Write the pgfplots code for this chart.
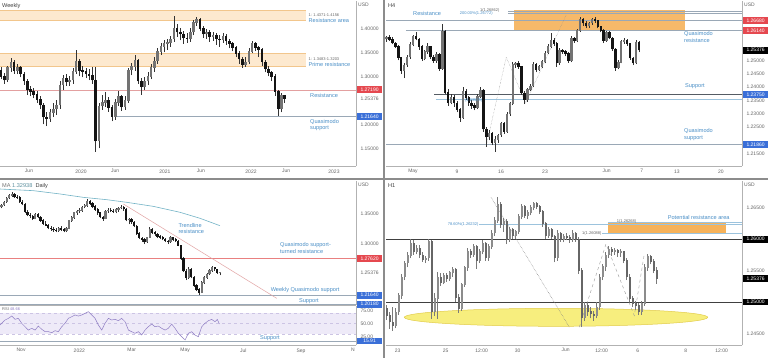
\documentclass[border=0pt]{standalone}
\usepackage{fontspec}
\setmainfont{Liberation Sans}
\usepackage{pgfplots}
\pgfplotsset{compat=1.18}
\usepackage{pgfplotstable}

\definecolor{tvblue}{HTML}{4A8FC7}
\definecolor{tvred}{HTML}{E5484F}
\definecolor{boxblue}{HTML}{3A6FD8}
\definecolor{peach}{HTML}{FDE9CF}
\definecolor{peachline}{HTML}{F2C68C}
\definecolor{orangebox}{HTML}{F6B25A}
\definecolor{lgray}{HTML}{9AA8B6}
\definecolor{ticktext}{HTML}{666666}
\definecolor{rsiline}{HTML}{8E7CC3}
\definecolor{rsifill}{HTML}{EEEAF8}
\definecolor{maline}{HTML}{72B3C6}
\definecolor{trendl}{HTML}{E2A3A3}
\definecolor{resl}{HTML}{E3A0A0}
\definecolor{ellfill}{HTML}{F7EE7E}
\definecolor{ellline}{HTML}{E2CC4A}
\definecolor{fibl}{HTML}{9CC3DD}

\newcommand\tk{\fontsize{5}{6}\selectfont}
\newcommand\an{\fontsize{5.6}{6.4}\selectfont}
\newcommand\sm{\fontsize{4}{4.6}\selectfont}

\pgfplotsset{
  tv/.style={scale only axis, width=356pt, clip=false,
    axis x line*=bottom, axis y line*=right,
    axis line style={-, draw=black!30, line width=0.6pt},
    major tick length=0pt, minor tick num=0,
    tick label style={font=\tk, text=ticktext},
    yticklabel style={anchor=west, xshift=1pt},
  },
}
\tikzset{
  plbox/.style={fill=#1, text=white, font=\tk, inner sep=0.6pt, minimum width=25.5pt, minimum height=6.6pt, anchor=west, xshift=0.6pt},
  ann/.style={font=\an, text=tvblue, anchor=west, inner sep=0pt, align=left},
  smt/.style={font=\sm, text=black!60, anchor=west, inner sep=0pt},
  ttl/.style={font=\an, text=black!75, anchor=north west, inner sep=2pt},
}

% #1 table, #2 up colour, #3 down colour, #4 wick colour, #5 body width, #6 minimum half body
\newcommand\candles[6]{%
\addplot[draw=#4, line width=0.6pt, line cap=butt, mark=none, -, quiver={u=0, v={\thisrow{h}-\thisrow{l}}}] table[x=x, y=l] {#1};
\addplot[draw=#2, line width=#5, line cap=butt, mark=none, -, quiver={u=0, v={(\thisrow{c}>=\thisrow{o})*(abs(\thisrow{c}-\thisrow{o})+2*#6)}}] table[x=x, y expr={min(\thisrow{o},\thisrow{c})-#6}] {#1};
\addplot[draw=#3, line width=#5, line cap=butt, mark=none, -, quiver={u=0, v={(\thisrow{c}<\thisrow{o})*(abs(\thisrow{c}-\thisrow{o})+2*#6)}}] table[x=x, y expr={min(\thisrow{o},\thisrow{c})-#6}] {#1};
}

% Weekly (two-week candles), x = weeks from Jan 2020
\pgfplotstableread{
x o h l c
-49 1.312 1.320 1.294 1.300
-47 1.300 1.306 1.285 1.292
-45 1.292 1.322 1.288 1.318
-43 1.318 1.338 1.310 1.330
-41 1.330 1.334 1.305 1.312
-39 1.312 1.325 1.304 1.318
-37 1.318 1.322 1.298 1.305
-35 1.305 1.310 1.282 1.290
-33 1.290 1.295 1.262 1.272
-31 1.272 1.280 1.258 1.268
-29 1.268 1.276 1.254 1.262
-27 1.262 1.270 1.245 1.252
-25 1.252 1.258 1.232 1.240
-23 1.240 1.244 1.200 1.215
-21 1.215 1.225 1.196 1.212
-19 1.212 1.232 1.205 1.225
-17 1.225 1.245 1.215 1.232
-15 1.232 1.250 1.220 1.240
-13 1.240 1.290 1.232 1.282
-11 1.282 1.302 1.272 1.296
-9 1.296 1.305 1.280 1.288
-7 1.288 1.300 1.280 1.292
-5 1.292 1.318 1.285 1.310
-3 1.310 1.355 1.305 1.332
-1 1.332 1.336 1.300 1.312
1 1.312 1.322 1.298 1.310
3 1.310 1.318 1.296 1.305
5 1.305 1.315 1.292 1.302
7 1.302 1.320 1.285 1.292
9 1.292 1.320 1.143 1.165
11 1.165 1.245 1.150 1.238
13 1.238 1.262 1.230 1.245
15 1.245 1.268 1.236 1.250
17 1.250 1.256 1.226 1.235
19 1.235 1.240 1.206 1.216
21 1.216 1.252 1.210 1.245
23 1.245 1.270 1.238 1.258
25 1.258 1.262 1.228 1.236
27 1.236 1.260 1.230 1.250
29 1.250 1.318 1.245 1.313
31 1.313 1.328 1.302 1.320
33 1.320 1.344 1.312 1.334
35 1.334 1.336 1.284 1.290
37 1.290 1.296 1.262 1.278
39 1.278 1.298 1.272 1.290
41 1.290 1.308 1.282 1.300
43 1.300 1.325 1.294 1.318
45 1.318 1.340 1.310 1.332
47 1.332 1.358 1.326 1.352
49 1.352 1.370 1.345 1.362
51 1.362 1.375 1.350 1.368
53 1.368 1.378 1.355 1.370
55 1.370 1.385 1.362 1.378
57 1.378 1.425 1.372 1.400
59 1.400 1.410 1.382 1.392
61 1.392 1.400 1.375 1.388
63 1.388 1.394 1.368 1.380
65 1.380 1.390 1.370 1.378
67 1.378 1.400 1.372 1.392
69 1.392 1.418 1.386 1.412
71 1.412 1.424 1.405 1.418
73 1.418 1.422 1.394 1.400
75 1.400 1.405 1.380 1.388
77 1.388 1.398 1.378 1.392
79 1.392 1.396 1.372 1.382
81 1.382 1.392 1.374 1.385
83 1.385 1.390 1.366 1.378
85 1.378 1.386 1.362 1.376
87 1.376 1.390 1.370 1.384
89 1.384 1.388 1.366 1.374
91 1.374 1.378 1.358 1.368
93 1.368 1.372 1.352 1.360
95 1.360 1.364 1.340 1.348
97 1.348 1.352 1.326 1.336
99 1.336 1.340 1.318 1.325
101 1.325 1.340 1.320 1.330
103 1.330 1.358 1.326 1.352
105 1.352 1.373 1.348 1.368
107 1.368 1.372 1.352 1.360
109 1.360 1.364 1.340 1.356
111 1.356 1.360 1.322 1.330
113 1.330 1.334 1.308 1.315
115 1.315 1.322 1.300 1.308
117 1.308 1.312 1.290 1.300
119 1.300 1.304 1.260 1.268
121 1.268 1.272 1.218 1.232
123 1.232 1.266 1.225 1.260
125 1.260 1.262 1.245 1.2538
}\tlw

% H4 (8-hour candles), x = trading days from 2 May
\pgfplotstableread{
x o h l c
-3.000 1.2580 1.2592 1.2570 1.2585
-2.667 1.2585 1.2595 1.2572 1.2578
-2.333 1.2578 1.2586 1.2560 1.2565
-2.000 1.2565 1.2570 1.2545 1.2551
-1.667 1.2551 1.2556 1.2500 1.2510
-1.333 1.2510 1.2514 1.2450 1.2462
-1.000 1.2462 1.2490 1.2433 1.2482
-0.667 1.2482 1.2520 1.2476 1.2512
-0.333 1.2512 1.2568 1.2505 1.2560
0.000 1.2560 1.2596 1.2552 1.2590
0.333 1.2590 1.2607 1.2575 1.2580
0.667 1.2580 1.2585 1.2540 1.2551
1.000 1.2551 1.2556 1.2498 1.2505
1.333 1.2505 1.2540 1.2500 1.2532
1.667 1.2532 1.2564 1.2525 1.2551
2.000 1.2551 1.2555 1.2505 1.2512
2.333 1.2512 1.2520 1.2490 1.2498
2.667 1.2498 1.2530 1.2490 1.2524
3.000 1.2524 1.2528 1.2460 1.2470
3.333 1.2470 1.2636 1.2465 1.2610
3.667 1.2610 1.2615 1.2372 1.2380
4.000 1.2380 1.2392 1.2330 1.2342
4.333 1.2342 1.2372 1.2335 1.2360
4.667 1.2360 1.2368 1.2325 1.2340
5.000 1.2340 1.2348 1.2305 1.2315
5.333 1.2315 1.2320 1.2270 1.2285
5.667 1.2285 1.2401 1.2280 1.2385
6.000 1.2385 1.2392 1.2352 1.2360
6.333 1.2360 1.2366 1.2330 1.2340
6.667 1.2340 1.2352 1.2318 1.2330
7.000 1.2330 1.2340 1.2312 1.2322
7.333 1.2322 1.2372 1.2316 1.2365
7.667 1.2365 1.2399 1.2358 1.2388
8.000 1.2388 1.2392 1.2232 1.2242
8.333 1.2242 1.2250 1.2176 1.2212
8.667 1.2212 1.2238 1.2200 1.2226
9.000 1.2226 1.2232 1.2182 1.2190
9.333 1.2190 1.2215 1.2158 1.2202
9.667 1.2202 1.2225 1.2190 1.2220
10.000 1.2220 1.2270 1.2214 1.2262
10.333 1.2262 1.2268 1.2225 1.2233
10.667 1.2233 1.2305 1.2228 1.2298
11.000 1.2298 1.2345 1.2292 1.2338
11.333 1.2338 1.2495 1.2332 1.2485
11.667 1.2485 1.2495 1.2472 1.2490
12.000 1.2490 1.2496 1.2468 1.2476
12.333 1.2476 1.2480 1.2370 1.2378
12.667 1.2378 1.2384 1.2336 1.2352
13.000 1.2352 1.2395 1.2345 1.2390
13.333 1.2390 1.2412 1.2385 1.2404
13.667 1.2404 1.2492 1.2398 1.2486
14.000 1.2486 1.2490 1.2455 1.2464
14.333 1.2464 1.2482 1.2458 1.2476
14.667 1.2476 1.2500 1.2470 1.2495
15.000 1.2495 1.2535 1.2488 1.2528
15.333 1.2528 1.2560 1.2522 1.2552
15.667 1.2552 1.2601 1.2545 1.2576
16.000 1.2576 1.2582 1.2555 1.2564
16.333 1.2564 1.2568 1.2476 1.2490
16.667 1.2490 1.2545 1.2484 1.2536
17.000 1.2536 1.2544 1.2525 1.2532
17.333 1.2532 1.2538 1.2515 1.2526
17.667 1.2526 1.2530 1.2490 1.2498
18.000 1.2498 1.2590 1.2492 1.2582
18.333 1.2582 1.2588 1.2565 1.2572
18.667 1.2572 1.2618 1.2568 1.2612
19.000 1.2612 1.2664 1.2606 1.2655
19.333 1.2655 1.2660 1.2630 1.2640
19.667 1.2640 1.2646 1.2620 1.2628
20.000 1.2628 1.2645 1.2622 1.2640
20.333 1.2640 1.2660 1.2634 1.2652
20.667 1.2652 1.2661 1.2640 1.2648
21.000 1.2648 1.2652 1.2620 1.2626
21.333 1.2626 1.2630 1.2605 1.2612
21.667 1.2612 1.2616 1.2564 1.2575
22.000 1.2575 1.2610 1.2570 1.2604
22.333 1.2604 1.2608 1.2578 1.2583
22.667 1.2583 1.2588 1.2536 1.2542
23.000 1.2542 1.2546 1.2461 1.2472
23.333 1.2472 1.2500 1.2466 1.2492
23.667 1.2492 1.2575 1.2488 1.2570
24.000 1.2570 1.2585 1.2562 1.2576
24.333 1.2576 1.2580 1.2555 1.2562
24.667 1.2562 1.2566 1.2502 1.2508
25.000 1.2508 1.2512 1.2482 1.2490
25.333 1.2490 1.2576 1.2486 1.2568
25.667 1.2568 1.2572 1.2530 1.2538
}\trh

% Daily (two-day candles), x = trading days from 1 Nov 2021
\pgfplotstableread{
x o h l c
-15 1.3600 1.3660 1.3580 1.3640
-13 1.3640 1.3700 1.3620 1.3685
-11 1.3685 1.3760 1.3670 1.3750
-9 1.3750 1.3810 1.3730 1.3795
-7 1.3795 1.3843 1.3770 1.3815
-5 1.3815 1.3830 1.3750 1.3770
-3 1.3770 1.3800 1.3740 1.3760
-1 1.3760 1.3775 1.3670 1.3685
1 1.3685 1.3720 1.3630 1.3650
3 1.3650 1.3665 1.3500 1.3520
5 1.3520 1.3560 1.3450 1.3475
7 1.3475 1.3500 1.3420 1.3455
9 1.3455 1.3470 1.3390 1.3410
11 1.3410 1.3500 1.3400 1.3490
13 1.3490 1.3510 1.3420 1.3440
15 1.3440 1.3460 1.3360 1.3380
17 1.3380 1.3400 1.3310 1.3330
19 1.3330 1.3370 1.3290 1.3300
21 1.3300 1.3320 1.3240 1.3260
23 1.3260 1.3290 1.3220 1.3245
25 1.3245 1.3280 1.3200 1.3225
27 1.3225 1.3260 1.3190 1.3215
29 1.3215 1.3280 1.3200 1.3250
31 1.3250 1.3290 1.3210 1.3240
33 1.3240 1.3260 1.3190 1.3210
35 1.3210 1.3270 1.3195 1.3250
37 1.3250 1.3390 1.3240 1.3380
39 1.3380 1.3450 1.3360 1.3430
41 1.3430 1.3530 1.3410 1.3510
43 1.3510 1.3560 1.3480 1.3540
45 1.3540 1.3590 1.3500 1.3545
47 1.3545 1.3620 1.3530 1.3600
49 1.3600 1.3660 1.3580 1.3630
51 1.3630 1.3734 1.3610 1.3700
53 1.3700 1.3720 1.3640 1.3660
55 1.3660 1.3680 1.3580 1.3610
57 1.3610 1.3630 1.3540 1.3560
59 1.3560 1.3580 1.3480 1.3510
61 1.3510 1.3530 1.3420 1.3440
63 1.3440 1.3460 1.3380 1.3410
65 1.3410 1.3560 1.3400 1.3540
67 1.3540 1.3580 1.3510 1.3550
69 1.3550 1.3590 1.3520 1.3540
71 1.3540 1.3570 1.3510 1.3530
73 1.3530 1.3580 1.3500 1.3560
75 1.3560 1.3610 1.3530 1.3590
77 1.3590 1.3640 1.3570 1.3600
79 1.3600 1.3620 1.3540 1.3570
81 1.3570 1.3580 1.3370 1.3390
83 1.3390 1.3420 1.3320 1.3400
85 1.3400 1.3430 1.3330 1.3360
87 1.3360 1.3380 1.3270 1.3290
89 1.3290 1.3310 1.3150 1.3170
91 1.3170 1.3190 1.3080 1.3100
93 1.3100 1.3120 1.3040 1.3070
95 1.3070 1.3090 1.3000 1.3030
97 1.3030 1.3120 1.3020 1.3110
99 1.3110 1.3270 1.3100 1.3240
101 1.3240 1.3260 1.3170 1.3190
103 1.3190 1.3210 1.3130 1.3160
105 1.3160 1.3180 1.3090 1.3120
107 1.3120 1.3150 1.3080 1.3110
109 1.3110 1.3130 1.3060 1.3085
111 1.3085 1.3100 1.3030 1.3050
113 1.3050 1.3070 1.3000 1.3030
115 1.3030 1.3136 1.3020 1.3110
117 1.3110 1.3120 1.3050 1.3070
119 1.3070 1.3090 1.3030 1.3050
121 1.3050 1.3060 1.2960 1.2975
123 1.2975 1.2990 1.2740 1.2760
125 1.2760 1.2780 1.2540 1.2560
127 1.2560 1.2600 1.2410 1.2450
129 1.2450 1.2620 1.2430 1.2590
131 1.2590 1.2610 1.2440 1.2460
133 1.2460 1.2480 1.2300 1.2320
135 1.2320 1.2340 1.2230 1.2260
137 1.2260 1.2290 1.2173 1.2210
139 1.2210 1.2390 1.2200 1.2370
141 1.2370 1.2470 1.2350 1.2455
143 1.2455 1.2530 1.2430 1.2510
145 1.2510 1.2590 1.2490 1.2570
147 1.2570 1.2646 1.2550 1.2620
149 1.2620 1.2630 1.2560 1.2590
151 1.2590 1.2600 1.2510 1.2530
153 1.2530 1.2550 1.2490 1.25376
}\bld

% H1 (three-hour candles), x = trading hours from 23 May 00:00
\pgfplotstableread{
x o h l c
-11 1.2490 1.2496 1.2472 1.2478
-8 1.2478 1.2484 1.2457 1.2468
-5 1.2468 1.2492 1.2454 1.2462
-2 1.2462 1.2490 1.2458 1.2484
1 1.2484 1.2515 1.2480 1.2510
4 1.2510 1.2545 1.2505 1.2540
7 1.2540 1.2566 1.2535 1.2562
10 1.2562 1.2580 1.2555 1.2574
13 1.2574 1.2600 1.2570 1.2594
16 1.2594 1.2598 1.2575 1.2580
19 1.2580 1.2590 1.2576 1.2586
22 1.2586 1.2590 1.2570 1.2575
25 1.2575 1.2580 1.2564 1.2568
28 1.2568 1.2574 1.2562 1.2570
31 1.2570 1.2600 1.2566 1.2596
34 1.2596 1.2598 1.2473 1.2484
37 1.2484 1.2515 1.2478 1.2505
40 1.2505 1.2548 1.2473 1.2540
43 1.2540 1.2546 1.2526 1.2531
46 1.2531 1.2546 1.2528 1.2542
49 1.2542 1.2546 1.2532 1.2537
52 1.2537 1.2550 1.2534 1.2547
55 1.2547 1.2556 1.2540 1.2552
58 1.2552 1.2554 1.2500 1.2507
61 1.2507 1.2512 1.2483 1.2490
64 1.2490 1.2530 1.2486 1.2528
67 1.2528 1.2558 1.2524 1.2555
70 1.2555 1.2586 1.2550 1.2580
73 1.2580 1.2585 1.2570 1.2576
76 1.2576 1.2592 1.2572 1.2588
79 1.2588 1.2590 1.2553 1.2566
82 1.2566 1.2584 1.2562 1.2580
85 1.2580 1.2598 1.2576 1.2594
88 1.2594 1.2596 1.2565 1.2570
91 1.2570 1.2592 1.2566 1.2588
94 1.2588 1.2615 1.2584 1.2610
97 1.2610 1.2636 1.2605 1.2630
100 1.2630 1.2667 1.2626 1.2655
103 1.2655 1.2660 1.2618 1.2624
106 1.2624 1.2634 1.2612 1.2628
109 1.2628 1.2632 1.2592 1.2600
112 1.2600 1.2620 1.2596 1.2615
115 1.2615 1.2618 1.2600 1.2605
118 1.2605 1.2615 1.2600 1.2612
121 1.2612 1.2640 1.2608 1.2636
124 1.2636 1.2656 1.2632 1.2652
127 1.2652 1.2655 1.2634 1.2638
130 1.2638 1.2646 1.2632 1.2642
133 1.2642 1.2654 1.2638 1.2650
136 1.2650 1.2660 1.2646 1.2657
139 1.2657 1.2659 1.2648 1.2652
142 1.2652 1.2655 1.2640 1.2644
145 1.2644 1.2646 1.2620 1.2625
148 1.2625 1.2628 1.2600 1.2605
151 1.2605 1.2620 1.2602 1.2616
154 1.2616 1.2618 1.2600 1.2604
157 1.2604 1.2606 1.2563 1.2570
160 1.2570 1.2614 1.2566 1.2610
163 1.2610 1.2612 1.2596 1.2600
166 1.2600 1.2608 1.2595 1.2604
169 1.2604 1.2610 1.2598 1.2603
172 1.2603 1.2606 1.2594 1.2600
175 1.2600 1.2614 1.2596 1.2610
178 1.2610 1.2612 1.2596 1.2600
181 1.2600 1.2604 1.2545 1.2550
184 1.2550 1.2554 1.2460 1.2475
187 1.2475 1.2500 1.2470 1.2494
190 1.2494 1.2498 1.2478 1.2485
193 1.2485 1.2492 1.2474 1.2481
196 1.2481 1.2486 1.2470 1.2478
199 1.2478 1.2500 1.2474 1.2492
202 1.2492 1.2545 1.2488 1.2540
205 1.2540 1.2560 1.2535 1.2556
208 1.2556 1.2580 1.2550 1.2575
211 1.2575 1.2589 1.2570 1.2584
214 1.2584 1.2588 1.2574 1.2580
217 1.2580 1.2586 1.2575 1.2582
220 1.2582 1.2585 1.2572 1.2578
223 1.2578 1.2584 1.2572 1.2580
226 1.2580 1.2582 1.2562 1.2566
229 1.2566 1.2570 1.2535 1.2540
232 1.2540 1.2544 1.2500 1.2505
235 1.2505 1.2510 1.2492 1.2497
238 1.2497 1.2502 1.2488 1.2494
241 1.2494 1.2498 1.2479 1.2485
244 1.2485 1.2502 1.2480 1.2498
247 1.2498 1.2560 1.2494 1.2555
250 1.2555 1.2577 1.2550 1.2572
253 1.2572 1.2575 1.2560 1.2565
256 1.2565 1.2568 1.2546 1.2550
259 1.2550 1.2556 1.2529 1.25376
}\brh

\begin{document}
\begin{tikzpicture}
\useasboundingbox (0,0) rectangle (768pt,-358pt);
\fill[black!45] (0,0) rectangle (768pt,-358pt);
\fill[white] (0,0) rectangle (383pt,-178pt);
\fill[white] (385pt,0) rectangle (768pt,-178pt);
\fill[white] (0,-180pt) rectangle (383pt,-358pt);
\fill[white] (385pt,-180pt) rectangle (768pt,-358pt);

% ---------------- Weekly ----------------
\begin{axis}[tv, at={(0pt,-1pt)}, anchor=north west, height=165pt,
  xmin=-49.7, xmax=168.7, ymin=1.11313, ymax=1.4569,
  xtick={-31.9,0,20.9,51.5,73.6,104.3,125.8,155.2},
  xticklabels={Jun,2020,Jun,2021,Jun,2022,Jun,2023},
  ytick={1.15,1.2,1.25376,1.3,1.35,1.4},
  yticklabels={1.15000,1.20000,1.25376,1.30000,1.35000,1.40000}]
\fill[peach] (axis cs:-49.7,1.4167) rectangle (axis cs:138,1.4375);
\draw[peachline,line width=0.5pt] (axis cs:-49.7,1.4375) -- (axis cs:138,1.4375) (axis cs:-49.7,1.4167) -- (axis cs:138,1.4167);
\fill[peach] (axis cs:-49.7,1.3208) rectangle (axis cs:138,1.3485);
\draw[peachline,line width=0.5pt] (axis cs:-49.7,1.3485) -- (axis cs:138,1.3485) (axis cs:-49.7,1.3208) -- (axis cs:138,1.3208);
\draw[resl,line width=0.5pt] (axis cs:-49.7,1.2719) -- (axis cs:168.7,1.2719);
\draw[lgray,line width=0.5pt] (axis cs:20.9,1.2164) -- (axis cs:168.7,1.2164);
\candles{\tlw}{black!55}{black!92}{black!80}{2.6pt}{0.0006}
\node[smt] at (axis cs:139.5,1.4277) {1: 1.4371-1.4156};
\node[ann] at (axis cs:139.5,1.4158) {Resistance area};
\node[smt] at (axis cs:139.5,1.3354) {1: 1.3483-1.3203};
\node[ann] at (axis cs:139.5,1.3250) {Prime resistance};
\node[ann] at (axis cs:140.5,1.2596) {Resistance};
\node[ann] at (axis cs:140.5,1.1985) {Quasimodo\\support};
\node[plbox=tvred] at ({rel axis cs:1,0}|-{axis cs:0,1.2719}) {1.27190};
\node[plbox=boxblue] at ({rel axis cs:1,0}|-{axis cs:0,1.2164}) {1.21640};
\node[ttl] at (rel axis cs:0,1) {Weekly};
\node[font=\tk, text=ticktext, anchor=north west, inner sep=2pt] at (rel axis cs:1,1) {USD};
\end{axis}

% ---------------- H4 ----------------
\begin{axis}[tv, at={(386pt,-1pt)}, anchor=north west, height=165pt,
  xmin=-3.07, xmax=37.39, ymin=1.21037, ymax=1.27223,
  xtick={0,5,10,15,22,26,30,35},
  xticklabels={May,9,16,23,Jun,7,13,20},
  ytick={1.215,1.225,1.23,1.235,1.24,1.245,1.25},
  yticklabels={1.21500,1.22500,1.23000,1.23500,1.24000,1.24500,1.25000}]
\fill[orangebox, opacity=0.9] (axis cs:11.44,1.26125) rectangle (axis cs:30.9,1.26886);
\draw[lgray,line width=0.4pt] (axis cs:10.8,1.26849) -- (axis cs:37.39,1.26849);
\draw[lgray,line width=0.4pt] (axis cs:10.8,1.26747) -- (axis cs:37.39,1.26747);
\draw[lgray,line width=0.5pt] (axis cs:-3.07,1.26485) -- (axis cs:37.39,1.26485);
\draw[lgray,line width=0.5pt] (axis cs:-0.8,1.26125) -- (axis cs:37.39,1.26125);
\draw[black!45!lgray,line width=0.5pt] (axis cs:2.39,1.23725) -- (axis cs:37.39,1.23725);
\draw[fibl,line width=0.5pt] (axis cs:2.6,1.23523) -- (axis cs:37.39,1.23523);
\draw[lgray,line width=0.5pt] (axis cs:-3.07,1.2185) -- (axis cs:37.39,1.2185);
\draw[densely dotted, black!45, line width=0.4pt] (axis cs:8.3,1.2176) -- (axis cs:10.6,1.2512) -- (axis cs:12.8,1.2340) -- (axis cs:17.4,1.2670);
\candles{\trh}{black!55}{black!92}{black!80}{2.4pt}{0.00012}
\node[ann] at (axis cs:0,1.26762) {Resistance};
\node[smt, text=tvblue] at (axis cs:5.3,1.26762) {200.00\%(1.26772)};
\node[smt] at (axis cs:7.6,1.26875) {1(1.26862)};
\node[smt, text=tvblue] at (axis cs:5.9,1.2350) {(1.23525)};
\node[ann] at (axis cs:30.8,1.2587) {Quasimodo\\resistance};
\node[ann] at (axis cs:30.9,1.24025) {Support};
\node[ann] at (axis cs:30.8,1.2222) {Quasimodo\\support};
\node[plbox=tvred] at ({rel axis cs:1,0}|-{axis cs:0,1.26485}) {1.26680};
\node[plbox=tvred] at ({rel axis cs:1,0}|-{axis cs:0,1.2612}) {1.26140};
\node[plbox=black] at ({rel axis cs:1,0}|-{axis cs:0,1.25376}) {1.25376};
\node[plbox=boxblue] at ({rel axis cs:1,0}|-{axis cs:0,1.23725}) {1.23750};
\node[plbox=boxblue] at ({rel axis cs:1,0}|-{axis cs:0,1.2185}) {1.21860};
\node[ttl] at (rel axis cs:0,1) {H4};
\node[font=\tk, text=ticktext, anchor=north west, inner sep=2pt] at (rel axis cs:1,1) {USD};
\end{axis}

% ---------------- Daily (price) ----------------
\begin{axis}[tv, at={(0pt,-181pt)}, anchor=north west, height=124pt,
  xmin=-16.2, xmax=257.7, ymin=1.2005, ymax=1.40277,
  xtick=\empty,
  ytick={1.25376,1.3,1.35},
  yticklabels={1.25376,1.30000,1.35000}]
\draw[resl!80!red,line width=0.5pt] (axis cs:-16.2,1.2762) -- (axis cs:257.7,1.2762);
\draw[lgray,line width=0.5pt] (axis cs:-16.2,1.2164) -- (axis cs:257.7,1.2164);
\draw[lgray,line width=0.6pt] (axis cs:-16.2,1.2018) -- (axis cs:257.7,1.2018);
\addplot[maline, line width=0.6pt, mark=none] coordinates {(-16.2,1.3897) (9.5,1.3870) (30,1.3816) (47.9,1.3761) (65.9,1.3723) (81.3,1.3680) (101.8,1.3614) (122.3,1.3517) (137.7,1.3419) (153,1.3299)};
\draw[trendl,line width=0.5pt] (axis cs:78.7,1.3653) -- (axis cs:196.7,1.2114);
\candles{\bld}{black!55}{black!92}{black!80}{2.2pt}{0.0004}
\node[ann] at (axis cs:121,1.3255) {Trendline\\resistance};
\node[ann] at (axis cs:199.2,1.2935) {Quasimodo support-\\turned resistance};
\node[ann] at (axis cs:192,1.2255) {Weekly Quasimodo support};
\node[ann] at (axis cs:213.8,1.2068) {Support};
\node[plbox=tvred] at ({rel axis cs:1,0}|-{axis cs:0,1.2762}) {1.27620};
\node[plbox=boxblue] at ({rel axis cs:1,0}|-{axis cs:0,1.2164}) {1.21640};
\node[plbox=boxblue] at ({rel axis cs:1,0}|-{axis cs:0,1.2018}) {1.20180};
\node[ttl] at (rel axis cs:0,1) {\textcolor{black!55}{MA}\ \textcolor{maline!80!black}{1.32938}\ \ Daily};
\node[font=\tk, text=ticktext, anchor=north west, inner sep=2pt] at (rel axis cs:1,1) {USD};
\end{axis}

% ---------------- Daily (RSI) ----------------
\begin{axis}[tv, at={(0pt,-306pt)}, anchor=north west, height=39pt,
  xmin=-16.2, xmax=257.7, ymin=8.3, ymax=83.3,
  xtick={0,44.8,85.2,126.2,171,215.4,255.4},
  xticklabels={Nov,2022,Mar,May,Jul,Sep,N},
  ytick={25,50,75}, yticklabels={25.00,50.00,75.00}]
\fill[rsifill] (axis cs:-16.2,30) rectangle (axis cs:257.7,70);
\draw[dashed, rsiline!45, line width=0.4pt] (axis cs:-16.2,70) -- (axis cs:257.7,70);
\draw[dashed, rsiline!45, line width=0.4pt] (axis cs:-16.2,50) -- (axis cs:257.7,50);
\draw[dashed, rsiline!45, line width=0.4pt] (axis cs:-16.2,30) -- (axis cs:257.7,30);
\draw[lgray,line width=0.6pt] (axis cs:-16.2,15.91) -- (axis cs:257.7,15.91);
\addplot[rsiline, line width=0.5pt, mark=none] coordinates {
(-16.2,46.7) (-12.3,56.3) (-9.7,59.6) (-7.2,64) (-4.6,57.7) (-2.1,59.6) (0.5,50) (3.1,43.5) (5.6,37) (8.2,40.4)
(10.8,37) (13.3,44.8) (15.9,38.5) (18.5,34) (21,34) (23.6,32) (26.2,35.8) (28.7,34) (31.3,43.5) (33.8,50)
(36.4,59.6) (39,62.7) (41.5,66) (44.1,64) (46.7,66) (49.2,69.2) (51.8,72.3) (54.4,66) (56.9,59.6) (59.5,46.7)
(62.1,37) (64.6,50) (67.2,59.6) (69.7,56.4) (72.3,57.7) (74.9,55.1) (77.4,59.6) (80,53.2) (82.6,37) (85.1,33.9)
(87.7,30.8) (90.3,33.9) (92.8,27.5) (95.4,37) (97.9,43.5) (100.5,48.5) (103.1,43.5) (105.6,44.8) (108.2,40.4) (110.8,37)
(113.3,40.4) (115.9,48.5) (118.5,40.4) (121,30.8) (123.6,24.3) (126.2,18) (128.7,30.8) (131.3,33.9) (133.8,27.5) (136.4,24.3)
(139,43.5) (141.5,50) (144.1,55) (146.7,57.5) (149.2,53.2) (151,57.5) (152.6,48.66)};
\node[ann] at (axis cs:183.8,21.2) {Support};
\node[font=\sm, text=black!60, anchor=north west, inner sep=2pt] at (rel axis cs:0,1) {RSI \textcolor{rsiline}{48.66}};
\node[plbox=boxblue] at ({rel axis cs:1,0}|-{axis cs:0,15.91}) {15.91};
\end{axis}

% ---------------- H1 ----------------
\begin{axis}[tv, at={(386pt,-181pt)}, anchor=north west, height=164pt,
  xmin=-11.7, xmax=344.3, ymin=1.24315, ymax=1.26927,
  xtick={0,48,84,120,168,204,240,288,324},
  xticklabels={23,25,12:00,30,Jun,12:00,6,8,12:00},
  ytick={1.245,1.255,1.265},
  yticklabels={1.24500,1.25500,1.26500}]
\draw[ellline, fill=ellfill, line width=0.5pt] (axis cs:158.3,1.24756) ellipse [x radius=151.7pt, y radius=9pt];
\draw[black!75,line width=0.6pt] (axis cs:-11.7,1.26) -- (axis cs:344.3,1.26);
\draw[black!75,line width=0.6pt] (axis cs:-11.7,1.25) -- (axis cs:344.3,1.25);
\fill[orangebox] (axis cs:210.6,1.26093) rectangle (axis cs:328,1.26269);
\draw[fibl,line width=0.5pt] (axis cs:81.6,1.26231) -- (axis cs:344.3,1.26231);
\draw[fibl,line width=0.5pt] (axis cs:210.6,1.26269) -- (axis cs:344.3,1.26269);
\draw[fibl,line width=0.5pt] (axis cs:204.3,1.26093) -- (axis cs:344.3,1.26093);
\draw[densely dotted, black!50, line width=0.5pt] (axis cs:93.3,1.2667) -- (axis cs:171.6,1.2460);
\draw[dashed, black!40, line width=0.4pt] (axis cs:181.6,1.2460) -- (axis cs:208.3,1.25924) -- (axis cs:236.6,1.24782) -- (axis cs:246.6,1.25764);
\candles{\brh}{black!45}{black!60}{black!52}{2.4pt}{0.00006}
\node[smt, text=tvblue, anchor=east] at (axis cs:81,1.26231) {78.60\%(1.26232)};
\node[smt] at (axis cs:219,1.26285) {1(1.26268)};
\node[smt, anchor=east] at (axis cs:204,1.26093) {1(1.26088)};
\node[ann, anchor=center] at (axis cs:301,1.26343) {Potential resistance area};
\node[plbox=black] at ({rel axis cs:1,0}|-{axis cs:0,1.26}) {1.26000};
\node[plbox=black] at ({rel axis cs:1,0}|-{axis cs:0,1.25376}) {1.25376};
\node[plbox=black] at ({rel axis cs:1,0}|-{axis cs:0,1.25}) {1.25000};
\node[ttl] at (rel axis cs:0,1) {H1};
\node[font=\tk, text=ticktext, anchor=north west, inner sep=2pt] at (rel axis cs:1,1) {USD};
\end{axis}
\end{tikzpicture}
\end{document}
